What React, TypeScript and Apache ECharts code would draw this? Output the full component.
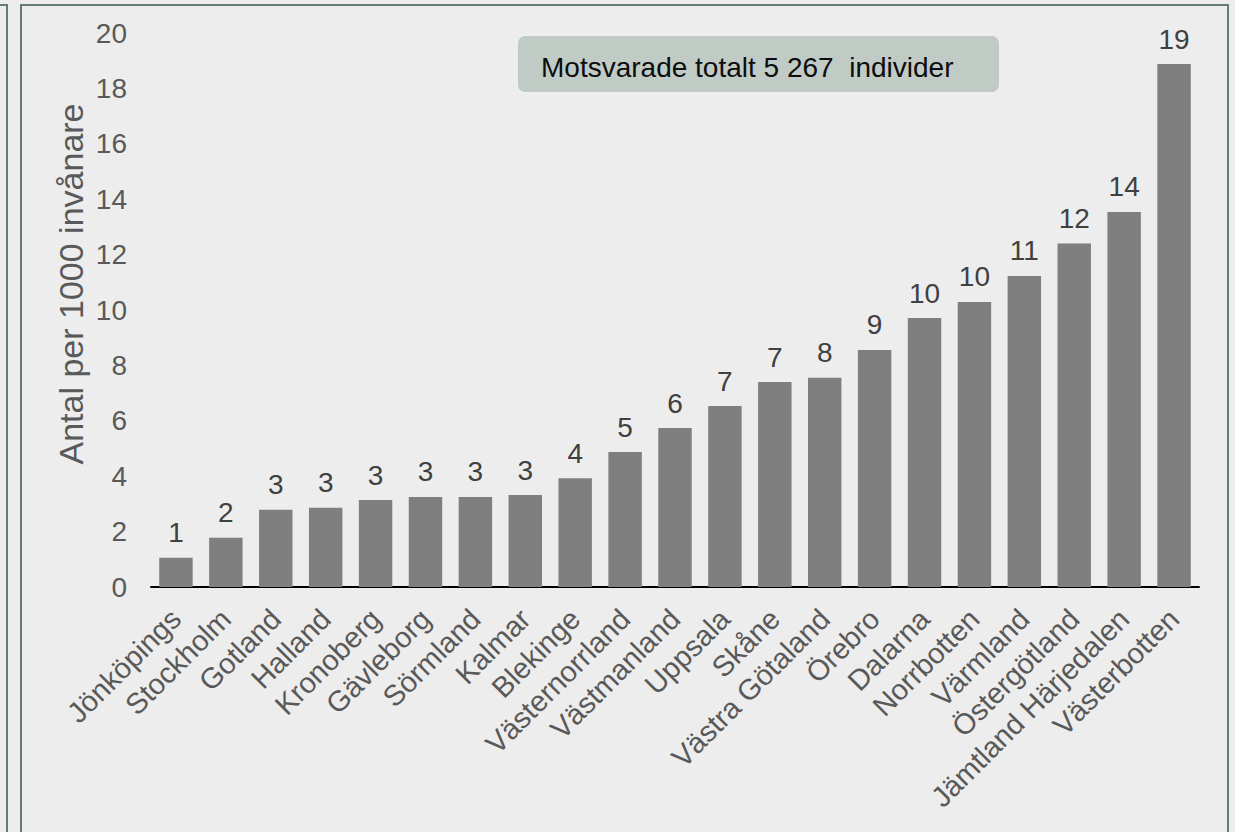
import React, { useEffect, useRef } from "react";
import * as echarts from "echarts";

const categories = [
  "Jönköpings", "Stockholm", "Gotland", "Halland", "Kronoberg", "Gävleborg", "Sörmland",
  "Kalmar", "Blekinge", "Västernorrland", "Västmanland", "Uppsala", "Skåne", "Västra Götaland",
  "Örebro", "Dalarna", "Norrbotten", "Värmland", "Östergötland", "Jämtland Härjedalen", "Västerbotten",
];
const values = [
  1.06, 1.78, 2.79, 2.86, 3.14, 3.25, 3.25, 3.32, 3.93, 4.87, 5.74, 6.53, 7.4, 7.55,
  8.56, 9.71, 10.29, 11.23, 12.4, 13.54, 18.88,
];
const yTicks = { min: 0, max: 20, interval: 2 };
const yAxisTitle = "Antal per 1000 invånare";
const noteText = "Motsvarade totalt 5 267  individer";

const FONT = "'Liberation Sans', Arial, sans-serif";

export default function App() {
  const ref = useRef<HTMLDivElement>(null);
  useEffect(() => {
    if (!ref.current) return;
    const chart = echarts.init(ref.current, null, { renderer: "svg" });
    chart.setOption({
      animation: false,
      backgroundColor: "#ededed",
      textStyle: { fontFamily: FONT },
      grid: { left: 151, right: 36, top: 33, bottom: 245, containLabel: false },
      xAxis: {
        type: "category",
        data: categories,
        axisLine: { show: true, lineStyle: { color: "#000000", width: 2 } },
        axisTick: { show: false },
        axisLabel: {
          rotate: 45,
          interval: 0,
          margin: 27,
          color: "#595959",
          fontSize: 29,
          fontFamily: FONT,
        },
      },
      yAxis: {
        type: "value",
        min: yTicks.min,
        max: yTicks.max,
        interval: yTicks.interval,
        axisLine: { show: false },
        axisTick: { show: false },
        splitLine: { show: false },
        axisLabel: { color: "#595959", fontSize: 28, margin: 24, fontFamily: FONT },
      },
      series: [
        {
          type: "bar",
          data: values,
          barWidth: "67%",
          itemStyle: { color: "#7f7f7f" },
          label: {
            show: true,
            position: "top",
            distance: 11,
            color: "#404040",
            fontSize: 28,
            fontFamily: FONT,
            formatter: (p: any) => String(Math.round(p.value)),
          },
        },
      ],
      graphic: [
        {
          type: "rect",
          shape: { x: -20, y: 5, width: 27, height: 900 },
          style: { fill: "none", stroke: "#657b72", lineWidth: 2 },
          silent: true,
        },
        {
          type: "rect",
          shape: { x: 21, y: 5, width: 1207, height: 900 },
          style: { fill: "none", stroke: "#657b72", lineWidth: 2 },
          silent: true,
        },
        {
          type: "rect",
          shape: { x: 518, y: 36, width: 481, height: 56, r: 7 },
          style: { fill: "#c1cbc6" },
          silent: true,
        },
        {
          type: "text",
          x: 541,
          y: 67,
          style: {
            text: noteText,
            fill: "#0d0d0d",
            fontSize: 28,
            fontFamily: FONT,
            verticalAlign: "middle",
            align: "left",
          },
          silent: true,
        },
        {
          type: "text",
          x: 71,
          y: 284,
          rotation: Math.PI / 2,
          style: {
            text: yAxisTitle,
            fill: "#595959",
            fontSize: 34,
            fontFamily: FONT,
            verticalAlign: "middle",
            align: "center",
          },
          silent: true,
        },
      ],
    });
    return () => chart.dispose();
  }, []);
  return (
    <div
      ref={ref}
      style={{ position: "absolute", left: 0, top: 0, width: 1235, height: 832 }}
    />
  );
}
